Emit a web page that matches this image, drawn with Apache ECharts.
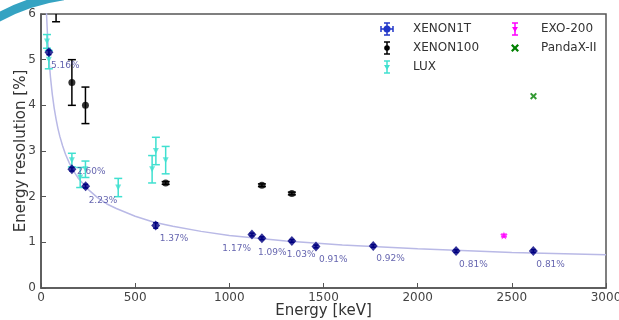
<!DOCTYPE html>
<html>
<head>
<meta charset="utf-8">
<script src="https://cdn.jsdelivr.net/npm/echarts@6/dist/echarts.min.js"></script>
<style>
  html, body { margin: 0; padding: 0; background: #fff; }
  #chart { width: 619px; height: 320px; }
</style>
</head>
<body>
<div id="chart"></div>
<script>
// energy resolution vs energy, several xenon experiments + fit curve

const x1tEnergy = [42, 164, 237, 609, 1120, 1173, 1332, 1460, 1764, 2204, 2614];
const x1tRes = [5.16, 2.60, 2.23, 1.37, 1.17, 1.09, 1.03, 0.91, 0.92, 0.81, 0.81];
const x1tErr = [0.05, 0.04, 0.04, 0.06, 0.03, 0.03, 0.03, 0.03, 0.03, 0.03, 0.03];

const x100Energy = [80, 164, 236, 662, 1173, 1332];
const x100Res = [6.3, 4.5, 4.0, 2.3, 2.25, 2.07];
const x100Err = [0.47, 0.5, 0.4, 0.03, 0.03, 0.03];

const luxEnergy = [32, 41.5, 164, 208, 236, 410, 590, 610, 662];
const luxRes = [5.4, 5.0, 2.8, 2.42, 2.6, 2.2, 2.6, 3.0, 2.8];
const luxErr = [0.15, 0.2, 0.15, 0.22, 0.18, 0.2, 0.3, 0.3, 0.3];

const exoEnergy = [2458];
const exoRes = [1.15];
const exoErr = [0.03];

const pandaEnergy = [2615];
const pandaRes = [4.2];

// fit curve
const fitEnergy = [28, 30, 33, 36, 40, 45, 50, 55, 60, 70, 80, 90, 100, 115, 130, 150, 175, 200, 250, 300, 350, 400, 500, 600, 700, 850, 1000, 1150, 1300, 1600, 2000, 2500, 3000];
const fitRes = [6.14, 5.94, 5.67, 5.43, 5.16, 4.88, 4.63, 4.43, 4.24, 3.94, 3.70, 3.49, 3.32, 3.11, 2.93, 2.74, 2.55, 2.39, 2.16, 1.98, 1.84, 1.74, 1.57, 1.44, 1.35, 1.24, 1.15, 1.09, 1.03, 0.94, 0.86, 0.78, 0.73];

const xTicks = [0, 500, 1000, 1500, 2000, 2500, 3000];
const yTicks = [0, 1, 2, 3, 4, 5, 6];

// label placement for the XENON1T percentages: [dx, dy, align]
const labelPlace = [
  [2, 13, "left"], [5, 2, "left"], [3, 14, "left"], [4, 13, "left"],
  [-1, 14, "right"], [-4, 14, "left"], [-5, 14, "left"], [3, 13, "left"],
  [3, 13, "left"], [3, 14, "left"], [3, 14, "left"],
];

const FONT = "DejaVu Sans";
const NAVY = "#000080";
const CYAN = "#40e0d0";
const MAGENTA = "#ff00ff";
const GREEN = "#008000";
const XPATH = "path://M2,0 L5,3 L8,0 L10,2 L7,5 L10,8 L8,10 L5,7 L2,10 L0,8 L3,5 L0,2 Z";

const zip3 = (a, b, c) => a.map((v, i) => [v, b[i], c[i]]);

function errBars(color, capW, lw) {
  return (params, api) => {
    const x = api.value(0), y = api.value(1), e = api.value(2);
    const top = api.coord([x, y + e]);
    const bot = api.coord([x, y - e]);
    const cs = params.coordSys;
    const t = Math.max(cs.y, top[1]);
    const b = Math.min(cs.y + cs.height, bot[1]);
    const px = top[0];
    const st = { stroke: color, lineWidth: lw };
    const kids = [{ type: "line", shape: { x1: px, y1: t, x2: px, y2: b }, style: st }];
    if (top[1] >= cs.y) kids.push({ type: "line", shape: { x1: px - capW / 2, y1: top[1], x2: px + capW / 2, y2: top[1] }, style: st });
    if (bot[1] <= cs.y + cs.height) kids.push({ type: "line", shape: { x1: px - capW / 2, y1: bot[1], x2: px + capW / 2, y2: bot[1] }, style: st });
    return { type: "group", children: kids };
  };
}

// hand-drawn legend in the upper-right corner
function legendIcon(cx, cy, color, marker) {
  const st = { stroke: color, lineWidth: 1.5 };
  return { type: "group", children: [
    { type: "line", shape: { x1: cx, y1: cy - 6, x2: cx, y2: cy + 6 }, style: st },
    { type: "line", shape: { x1: cx - 3, y1: cy - 6, x2: cx + 3, y2: cy - 6 }, style: st },
    { type: "line", shape: { x1: cx - 3, y1: cy + 6, x2: cx + 3, y2: cy + 6 }, style: st },
    marker,
  ] };
}

function xShape(cx, cy, s) {
  const p = [[2, 0], [5, 3], [8, 0], [10, 2], [7, 5], [10, 8], [8, 10], [5, 7], [2, 10], [0, 8], [3, 5], [0, 2]];
  return p.map(([a, b]) => [cx + (a - 5) * s / 10, cy + (b - 5) * s / 10]);
}

const B1 = "#2036c8";
const b1st = { stroke: B1, lineWidth: 1.5 };
const legendItems = [
  { x: 387, y: 29, text: "XENON1T", icon: { type: "group", children: [
    { type: "line", shape: { x1: 387, y1: 23, x2: 387, y2: 35 }, style: b1st },
    { type: "line", shape: { x1: 381, y1: 29, x2: 393, y2: 29 }, style: b1st },
    { type: "line", shape: { x1: 384, y1: 23, x2: 390, y2: 23 }, style: b1st },
    { type: "line", shape: { x1: 384, y1: 35, x2: 390, y2: 35 }, style: b1st },
    { type: "line", shape: { x1: 381, y1: 26, x2: 381, y2: 32 }, style: b1st },
    { type: "line", shape: { x1: 393, y1: 26, x2: 393, y2: 32 }, style: b1st },
    { type: "circle", shape: { cx: 387, cy: 29, r: 3.5 }, style: { fill: B1 } },
  ] } },
  { x: 387, y: 48, text: "XENON100", icon: legendIcon(387, 48, "#000", { type: "circle", shape: { cx: 387, cy: 48, r: 2.8 }, style: { fill: "#000" } }) },
  { x: 387, y: 67, text: "LUX", icon: legendIcon(387, 67, CYAN, { type: "polygon", shape: { points: [[384, 65], [390, 65], [387, 70]] }, style: { fill: CYAN } }) },
  { x: 515, y: 29, text: "EXO-200", icon: legendIcon(515, 29, MAGENTA, { type: "polygon", shape: { points: [[512, 27], [518, 27], [515, 32]] }, style: { fill: MAGENTA } }) },
  { x: 515, y: 48, text: "PandaX-II", icon: { type: "polygon", shape: { points: xShape(515, 48, 8) }, style: { fill: GREEN } } },
];

const graphics = [
  { type: "arc", shape: { cx: 90, cy: 185, r: 191, startAngle: -Math.PI * 125 / 180, endAngle: -Math.PI * 98 / 180 },
    style: { stroke: "#35a3c2", lineWidth: 9, fill: null }, silent: true, z: 100 },
];
legendItems.forEach((it) => {
  graphics.push(it.icon);
  graphics.push({ type: "text", x: it.x + 26, y: it.y, style: { text: it.text, fill: "#333", font: "12px '" + FONT + "'", verticalAlign: "middle" } });
});

const chart = echarts.init(document.getElementById("chart"), null, { renderer: "canvas" });

chart.setOption({
  animation: false,
  backgroundColor: "#fff",
  textStyle: { fontFamily: FONT },
  grid: {
    left: 41, right: 13, top: 14, bottom: 32, containLabel: false, outerBoundsMode: "none",
    show: true, borderColor: "#555", borderWidth: 1.5, backgroundColor: "transparent",
  },
  graphic: graphics,
  xAxis: {
    type: "value", min: xTicks[0], max: xTicks[xTicks.length - 1], interval: 500,
    name: "Energy [keV]", nameLocation: "middle", nameGap: 16, nameMoveOverlap: false,
    nameTextStyle: { fontSize: 15, color: "#333", fontFamily: FONT },
    axisLine: { show: true, lineStyle: { color: "#555", width: 1.5 } },
    axisTick: { show: true, inside: true, length: 5, lineStyle: { color: "#555" } },
    axisLabel: { color: "#444", fontSize: 12, margin: 4, fontFamily: FONT, formatter: (v) => String(v) },
    splitLine: { show: false },
  },
  yAxis: {
    type: "value", min: yTicks[0], max: yTicks[yTicks.length - 1], interval: 1,
    name: "Energy resolution [%]", nameLocation: "middle", nameGap: 12, nameMoveOverlap: false,
    nameTextStyle: { fontSize: 15, color: "#333", fontFamily: FONT },
    axisLine: { show: true, lineStyle: { color: "#555", width: 1.5 } },
    axisTick: { show: true, inside: true, length: 5, lineStyle: { color: "#555" } },
    axisLabel: { color: "#444", fontSize: 12, margin: 5, fontFamily: FONT, formatter: (v) => String(v) },
    splitLine: { show: false },
  },
  series: [
    {
      name: "fit", type: "line", data: fitEnergy.map((e, i) => [e, fitRes[i]]),
      smooth: false, showSymbol: false, clip: true,
      lineStyle: { color: "#b9b9e6", width: 1.5 }, z: 1,
    },
    { name: "LUX err", type: "custom", renderItem: errBars(CYAN, 8, 1.5), data: zip3(luxEnergy, luxRes, luxErr), z: 2 },
    {
      name: "LUX", type: "scatter", data: luxEnergy.map((e, i) => [e, luxRes[i]]),
      symbol: "triangle", symbolRotate: 180, symbolSize: 6, itemStyle: { color: CYAN }, z: 3,
    },
    { name: "XENON100 err", type: "custom", renderItem: errBars("#000", 8, 1.5), data: zip3(x100Energy, x100Res, x100Err), z: 4 },
    {
      name: "XENON100", type: "scatter", data: x100Energy.map((e, i) => [e, x100Res[i]]),
      symbol: "circle", symbolSize: 7, itemStyle: { color: "#000" }, z: 5,
    },
    { name: "EXO-200 err", type: "custom", renderItem: errBars(MAGENTA, 6, 1.2), data: zip3(exoEnergy, exoRes, exoErr), z: 4 },
    {
      name: "EXO-200", type: "scatter", data: exoEnergy.map((e, i) => [e, exoRes[i]]),
      symbol: "path://M50,0 L61,35 L98,35 L68,57 L79,91 L50,70 L21,91 L32,57 L2,35 L39,35 Z",
      symbolSize: 8, itemStyle: { color: MAGENTA }, z: 5,
    },
    {
      name: "PandaX-II", type: "scatter", data: pandaEnergy.map((e, i) => [e, pandaRes[i]]),
      symbol: XPATH, symbolSize: 7, itemStyle: { color: GREEN }, z: 5,
    },
    { name: "XENON1T err", type: "custom", renderItem: errBars(NAVY, 5, 1.5), data: zip3(x1tEnergy, x1tRes, x1tErr), z: 6 },
    {
      name: "XENON1T", type: "scatter",
      data: x1tEnergy.map((e, i) => ({
        value: [e, x1tRes[i]],
        label: { offset: [labelPlace[i][0], labelPlace[i][1]], align: labelPlace[i][2] },
      })),
      symbol: "diamond", symbolSize: [9, 10], itemStyle: { color: NAVY }, z: 7,
      label: {
        show: true, position: "inside", verticalAlign: "middle",
        formatter: (p) => p.value[1].toFixed(2) + "%",
        color: "#3c3c9a", fontSize: 9, fontFamily: FONT,
      },
    },
  ],
});
</script>
</body>
</html>
